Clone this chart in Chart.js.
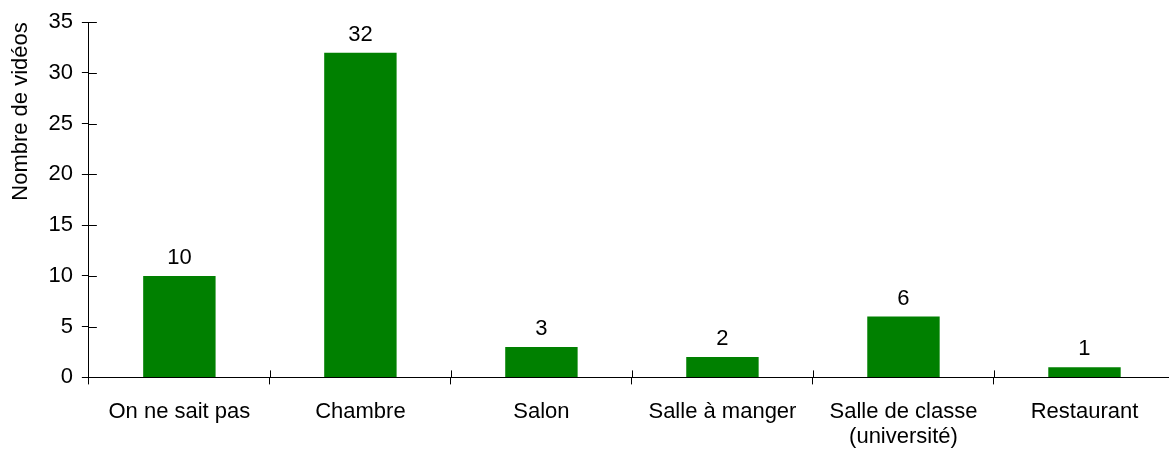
<!DOCTYPE html>
<html>
<head>
<meta charset="utf-8">
<script src="https://cdn.jsdelivr.net/npm/chart.js@4"></script>
<style>
    html, body { margin: 0; padding: 0; background: #fff; overflow: hidden; }
    #wrap { width: 1175px; height: 465px; }
</style>
</head>
<body>
<div id="wrap"><canvas id="lieuChart"></canvas></div>
<script>
const categories = [
    "On ne sait pas",
    "Chambre",
    "Salon",
    "Salle à manger",
    ["Salle de classe", "(université)"],
    "Restaurant"
];
const videoCounts = [10, 32, 3, 2, 6, 1];
const yTicks = [0, 5, 10, 15, 20, 25, 30, 35];

Chart.defaults.font.family = "'Liberation Sans', Arial, Helvetica, sans-serif";
Chart.defaults.font.size = 22;
Chart.defaults.color = "#000";

// valeurs au-dessus des barres + petits traits qui traversent les axes
const valueLabels = {
    id: "valueLabels",
    afterDatasetsDraw(chart) {
        const ctx = chart.ctx;
        const meta = chart.getDatasetMeta(0);
        ctx.save();
        ctx.font = "22px 'Liberation Sans', Arial, sans-serif";
        ctx.fillStyle = "#000";
        ctx.textAlign = "center";
        ctx.textBaseline = "alphabetic";
        meta.data.forEach((bar, i) => {
            ctx.fillText(videoCounts[i], bar.x, bar.y - 12);
        });
        ctx.restore();
    },
    afterDraw(chart) {
        const ctx = chart.ctx;
        const x = chart.scales.x;
        const y = chart.scales.y;
        const area = chart.chartArea;
        ctx.save();
        ctx.strokeStyle = "#000";
        ctx.lineWidth = 1;
        ctx.beginPath();
        yTicks.forEach(v => {
            const py = Math.round(y.getPixelForValue(v)) + 0.5;
            ctx.moveTo(area.left, py);
            ctx.lineTo(area.left + 8, py);
        });
        for (let i = 1; i < categories.length; i++) {
            const px = Math.round((x.getPixelForValue(i - 1) + x.getPixelForValue(i)) / 2) + 0.5;
            ctx.moveTo(px, area.bottom);
            ctx.lineTo(px, area.bottom - 7);
        }
        ctx.stroke();
        ctx.restore();
    }
};

const ctxLieu = document.getElementById("lieuChart").getContext("2d");
new Chart(ctxLieu, {
    type: "bar",
    data: {
        labels: categories,
        datasets: [{
            label: "Nombre de vidéos",
            data: videoCounts,
            backgroundColor: "#008000",
            borderWidth: 0,
            categoryPercentage: 1,
            barPercentage: 0.4
        }]
    },
    options: {
        responsive: true,
        maintainAspectRatio: false,
        animation: false,
        layout: { padding: { top: 5, left: 8, right: 0, bottom: 0 } },
        plugins: {
            legend: { display: false },
            tooltip: { enabled: false }
        },
        scales: {
            x: {
                grid: {
                    offset: true,
                    drawOnChartArea: false,
                    drawTicks: true,
                    tickLength: 7,
                    color: "#000"
                },
                border: { color: "#000", width: 1 },
                ticks: { padding: 15, maxRotation: 0, autoSkip: false, font: { lineHeight: 1.15 } }
            },
            y: {
                min: 0,
                max: 35,
                afterBuildTicks(axis) {
                    axis.ticks = yTicks.map(v => ({ value: v }));
                },
                grid: {
                    drawOnChartArea: false,
                    drawTicks: true,
                    tickLength: 7,
                    color: "#000"
                },
                border: { color: "#000", width: 1 },
                ticks: { padding: 9 },
                title: {
                    display: true,
                    text: "Nombre de vidéos",
                    align: "end",
                    padding: { top: 0, bottom: 5 }
                }
            }
        }
    },
    plugins: [valueLabels]
});
</script>
</body>
</html>
